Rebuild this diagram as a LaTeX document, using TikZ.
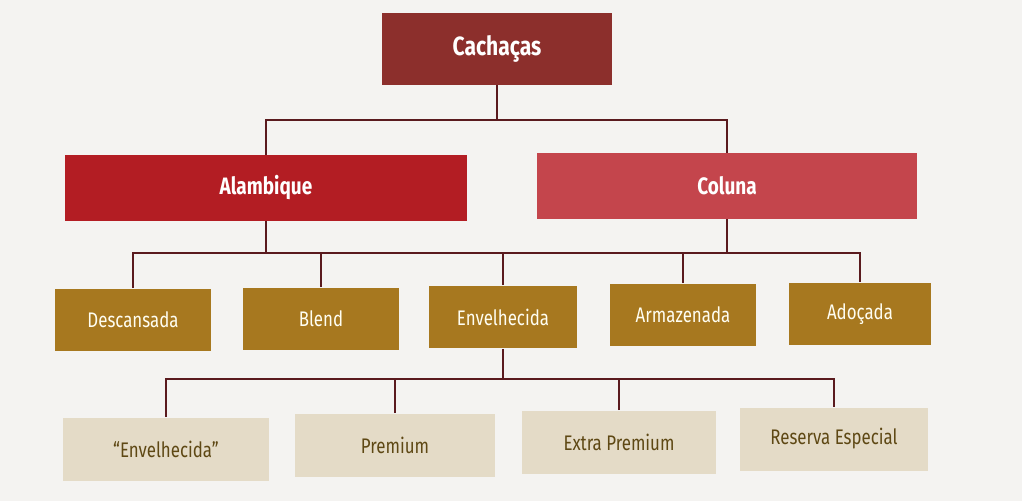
\documentclass[tikz,border=0pt]{standalone}
\usepackage{fontspec}
\setmainfont{Fira Sans}[FakeStretch=0.8]
\definecolor{bgpaper}{HTML}{F4F3F1}
\definecolor{topred}{HTML}{8C2F2C}
\definecolor{alamred}{HTML}{B31D23}
\definecolor{colred}{HTML}{C4454C}
\definecolor{ochre}{HTML}{A7781F}
\definecolor{cream}{HTML}{E4DBC7}
\definecolor{creamtext}{HTML}{5E4814}
\definecolor{linkcol}{HTML}{5A1A1E}
\begin{document}
\begin{tikzpicture}[x=0.02cm,y=-0.02cm,
  top/.style={fill=topred,text=white,font=\bfseries\fontsize{15}{17}\selectfont,minimum height=1.44cm,inner sep=0pt},
  kind/.style={text=white,font=\bfseries\fontsize{13.5}{15}\selectfont,minimum height=1.32cm,inner sep=0pt},
  sort/.style={fill=ochre,text=white!95!yellow,font=\fontsize{12}{14}\selectfont,minimum height=1.26cm,inner sep=0pt},
  grade/.style={fill=cream,text=creamtext,font=\fontsize{12}{14}\selectfont,minimum height=1.26cm,inner sep=0pt},
  link/.style={draw=linkcol,line width=1pt}]
\useasboundingbox (0,0) rectangle (1022,501);
\fill[bgpaper] (0,0) rectangle (1022,501);

% top
\draw (497,49) node[top,minimum width=4.62cm] (cach) {Cachaças};

% alambique / coluna
\draw (266,188) node[kind,fill=alamred,minimum width=8.04cm] (alam) {Alambique};
\draw (727,186) node[kind,fill=colred,minimum width=7.62cm] (colu) {Coluna};

% third row
\draw (133,320) node[sort,minimum width=3.14cm] (desc) {Descansada};
\draw (321,319) node[sort,minimum width=3.12cm] (blend) {Blend};
\draw (503,317) node[sort,minimum width=2.98cm] (env) {Envelhecida};
\draw (683,315) node[sort,minimum width=2.92cm] (arm) {Armazenada};
\draw (860,314) node[sort,minimum width=2.86cm] (ado) {Adoçada};

% fourth row
\draw (166,449) node[grade,minimum width=4.14cm] (envq) {“Envelhecida”};
\draw (395,445) node[grade,minimum width=4.00cm] (prem) {Premium};
\draw (619,442) node[grade,minimum width=3.88cm] (xprem) {Extra Premium};
\draw (834,439) node[grade,minimum width=3.76cm] (resv) {Reserva Especial};

% connectors
\draw[link] (cach.south) -- ++(0,35) coordinate (j1);
\draw[link] (alam.north) |- (j1) -| (colu.north);

\draw[link] (alam.south) -- ++(0,32) coordinate (j2);
\draw[link] (desc.north) |- (j2) -| (ado.north);
\draw[link] (colu.south) -- (colu.south |- j2);
\draw[link] (blend.north) -- (blend.north |- j2);
\draw[link] (env.north) -- (env.north |- j2);
\draw[link] (arm.north) -- (arm.north |- j2);

\draw[link] (env.south) -- ++(0,30) coordinate (j3);
\draw[link] (envq.north) |- (j3) -| (resv.north);
\draw[link] (prem.north) -- (prem.north |- j3);
\draw[link] (xprem.north) -- (xprem.north |- j3);
\end{tikzpicture}
\end{document}
